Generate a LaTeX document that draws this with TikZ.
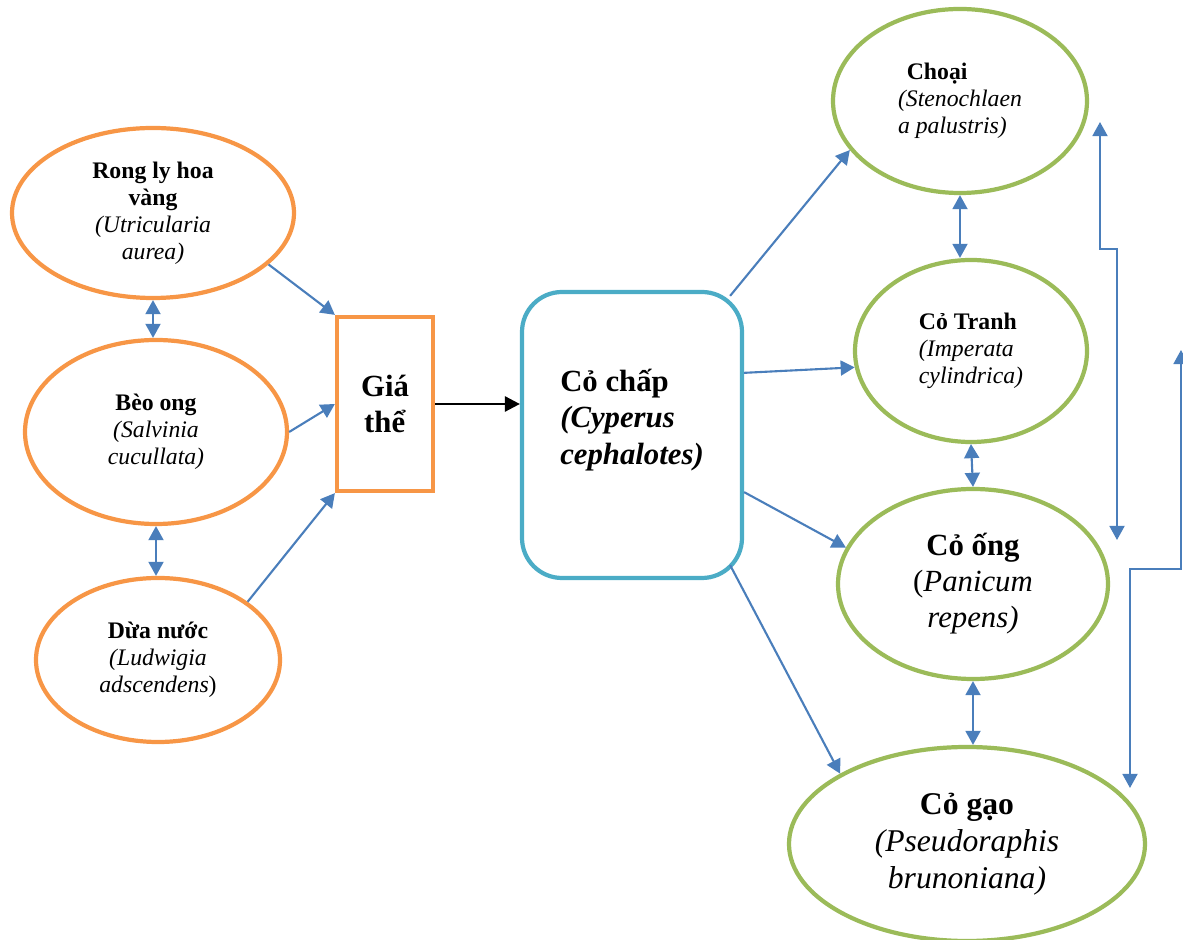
\documentclass[tikz,border=0pt]{standalone}
\usepackage{fontspec}
\setmainfont{Liberation Serif}
\usetikzlibrary{shapes.geometric,arrows.meta,calc}

\definecolor{orline}{HTML}{F79646}
\definecolor{grline}{HTML}{9BBB59}
\definecolor{aqline}{HTML}{4BACC6}
\definecolor{bluearr}{HTML}{4A7EBB}

\begin{document}
\begin{tikzpicture}[
    x=0.2mm, y=-0.2mm,
    oval/.style={ellipse, draw, line width=2.4pt, inner sep=0pt, align=center},
    smalltxt/.style={font=\fontsize{13.5}{15.4}\selectfont},
    largetxt/.style={font=\fontsize{17.5}{20.8}\selectfont},
    blink/.style={-{Triangle[length=8pt,width=8.5pt]}, draw=bluearr, line width=1.2pt},
    twoway/.style={{Triangle[length=8pt,width=8.5pt]}-{Triangle[length=8pt,width=8.5pt]}, draw=bluearr, line width=1.2pt},
    blkarrow/.style={-{Triangle[length=8.5pt,width=8.5pt]}, draw=black, line width=1.5pt}
]
\useasboundingbox (0,0) rectangle (1183,940);

% left group
\node[oval, draw=orline, smalltxt, minimum width=56.4mm, minimum height=34mm] (rong) at (153,213)
    {\textbf{Rong ly hoa}\\\textbf{vàng}\\\textit{(Utricularia}\\\textit{aurea)}};
\node[oval, draw=orline, smalltxt, minimum width=52.4mm, minimum height=36.8mm] (beo) at (156,432)
    {\textbf{Bèo ong}\\\textit{(Salvinia}\\\textit{cucullata)}};
\node[oval, draw=orline, smalltxt, minimum width=48.8mm, minimum height=32.8mm] (dua) at (158,660)
    {\textbf{Dừa nước}\\\textit{(Ludwigia}\\\textit{adscendens})};
\node[rectangle, draw=orline, line width=2.4pt, align=center, largetxt,
      minimum width=19.2mm, minimum height=34.8mm] (gia) at (385,404) {\textbf{Giá}\\\textbf{thể}};

% centre
\node[rectangle, draw=aqline, line width=2.4pt, rounded corners=8mm, align=left, largetxt,
      minimum width=44mm, minimum height=57.2mm] (chap) at (632,435)
    {\textbf{Cỏ chấp}\\\textbf{\textit{(Cyperus}}\\\textbf{\textit{cephalotes)}}\\\mbox{}};

% right group
\node[oval, draw=grline, smalltxt, align=left, minimum width=50.8mm, minimum height=36.8mm] (choai) at (960,101)
    {\hspace{5pt}\textbf{Choại}\\\textit{(Stenochlaen}\\\textit{a palustris)}};
\node[oval, draw=grline, smalltxt, align=left, minimum width=46.4mm, minimum height=36.4mm] (tranh) at (971,351)
    {\textbf{Cỏ Tranh}\\\textit{(Imperata}\\\textit{cylindrica)}};
\node[oval, draw=grline, font=\fontsize{17.5}{20.5}\selectfont, minimum width=54mm, minimum height=38mm] (ong) at (973,584)
    {\textbf{Cỏ ống}\\(\textit{Panicum}\\\textit{repens)}};
\node[oval, draw=grline, font=\fontsize{18}{21}\selectfont, minimum width=71.2mm, minimum height=38.8mm] (gao) at (967,844)
    {\textbf{Cỏ gạo}\\\textit{(Pseudoraphis}\\\textit{brunoniana)}};

\draw[blink] (rong.-24) -- (gia.north west);
\draw[blink] (beo.east) -- (gia.west);
\draw[blink] (dua.33) -- (gia.south west);
\draw[twoway] (rong.south) -- (rong.south |- beo.north);
\draw[twoway] (beo.south) -- (beo.south |- dua.north);

\draw[blkarrow] (gia.east) -- (gia.east -| chap.west);

\draw[blink] ($(chap.north east)+(-14,6)$) -- (choai.204);
\draw[blink] (chap.29) -- (tranh.188);
\draw[blink] (chap.-27) -- (ong.164);
\draw[blink] ($(chap.south east)+(-14,-15)$) -- (gao.151);

\draw[twoway] (choai.south) -- (choai.south |- tranh.north);
\draw[twoway] (tranh.south) -- (ong.north);
\draw[twoway] (ong.south) -- (ong.south |- gao.north);

% loops on the right
\coordinate (loopA) at (1100,122);
\coordinate (loopB) at (1117,540);
\coordinate (loopC) at (1181,350);
\coordinate (loopD) at (1130,788);
\draw[twoway] (loopA) -- ++(0,127) -| (loopB);
\draw[twoway] (loopC) -- ++(0,219) -| (loopD);
\end{tikzpicture}
\end{document}
